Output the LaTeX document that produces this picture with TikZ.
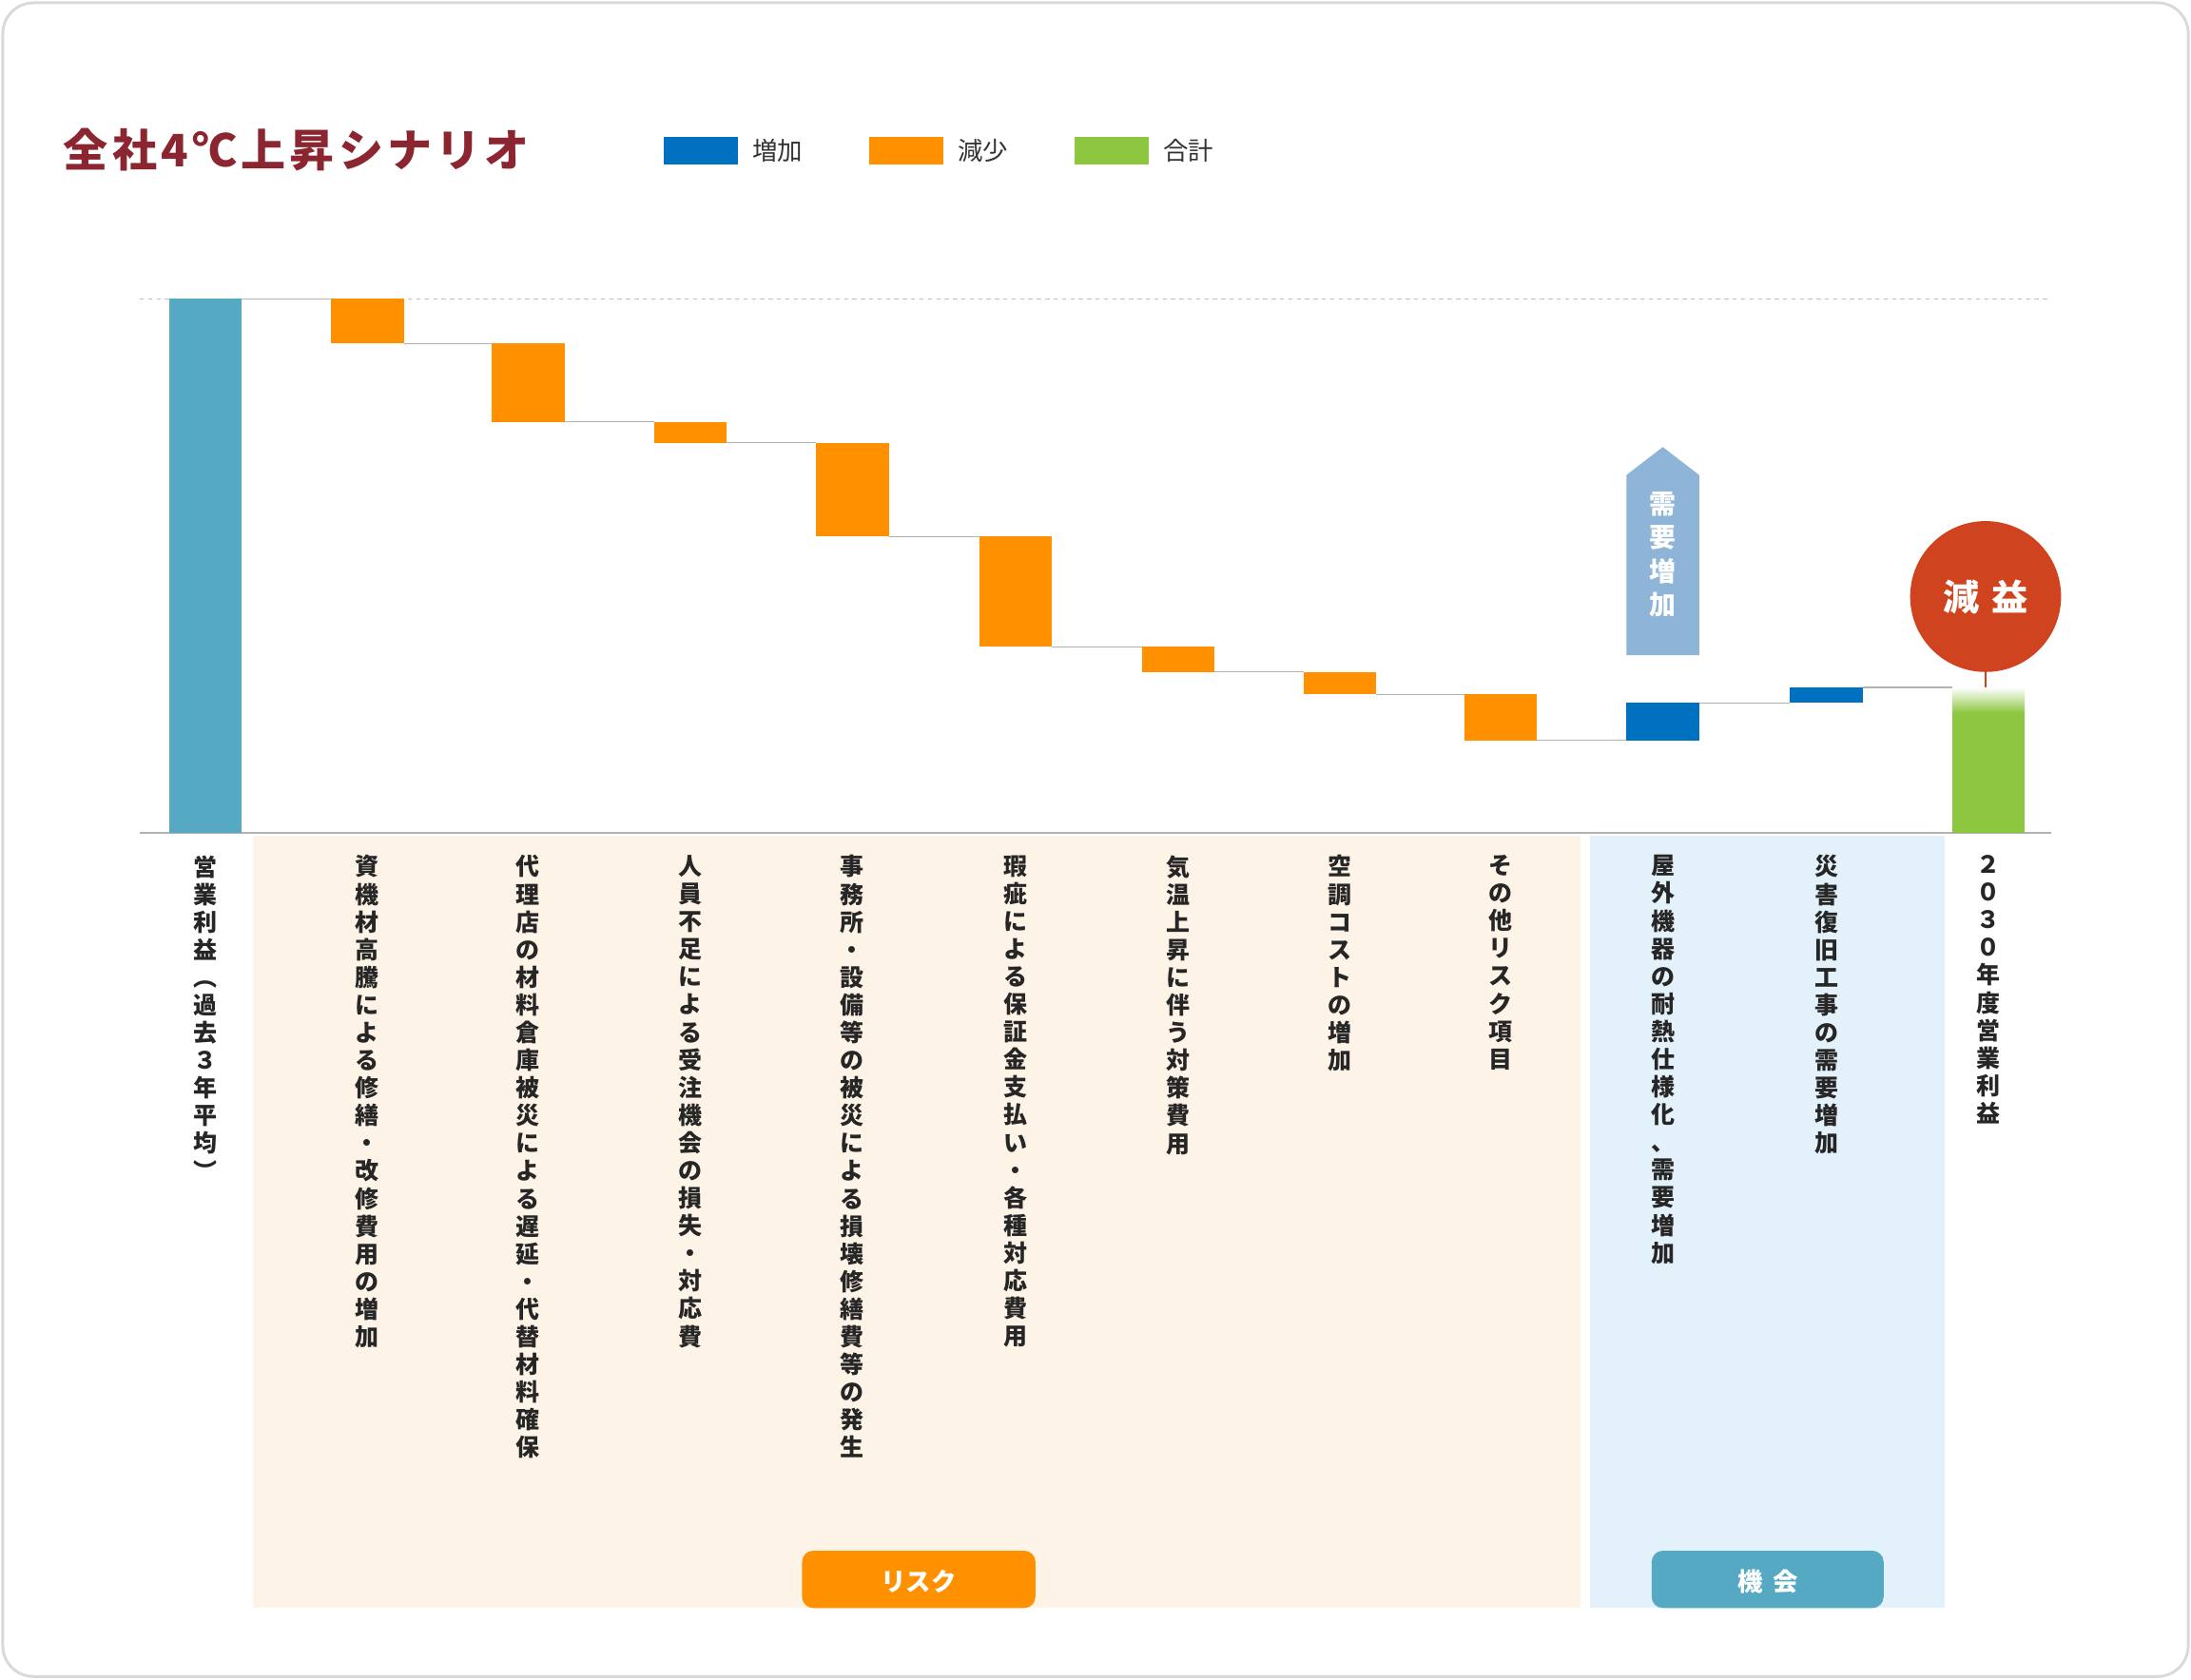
\documentclass[tikz,border=0pt]{standalone}
\usepackage{fontspec}
\usepackage{graphicx}
\setmainfont{Noto Sans CJK JP}
\def\vt#1{\vbox{\baselineskip=19.8pt\vtx#1\relax}}
\def\vtx#1{\ifx\relax#1\else\hbox to 20pt{\hss#1\hss}\expandafter\vtx\fi}
\definecolor{bblue}{HTML}{0070C0}
\definecolor{borange}{HTML}{FF9100}
\definecolor{bgreen}{HTML}{8DC63F}
\definecolor{bteal}{HTML}{55A9C2}
\definecolor{titlered}{HTML}{8B2530}
\definecolor{riskbg}{HTML}{FDF3E6}
\definecolor{oppbg}{HTML}{E3F2FA}
\definecolor{arrowblue}{HTML}{8EB4D8}
\definecolor{circred}{HTML}{D0431F}
\begin{document}
\begin{tikzpicture}[x=1pt,y=-1pt,
  conn/.style={draw=gray!60,line width=0.8pt},
  vlab/.style={anchor=north,inner sep=0pt,font=\fontsize{17}{20}\selectfont\bfseries,text=black!85},
  leg/.style={anchor=west,font=\fontsize{18}{20}\selectfont,text=black!80}]
\useasboundingbox (0,0) rectangle (1568,1202);
\draw[rounded corners=22pt,draw=black!15,line width=2pt,fill=white] (2,2) rectangle (1566,1200);
\node[anchor=west,font=\fontsize{32}{34}\selectfont\bfseries\addfontfeature{LetterSpace=9},text=titlered] (title) at (42,107) {全社4℃上昇シナリオ};
\fill[bblue] (475,98) rectangle (528,118); \node[leg] (l1) at (535,108) {増加};
\fill[borange] (622,98) rectangle (675,118); \node[leg] (l2) at (682,108) {減少};
\fill[bgreen] (769,98) rectangle (822,118); \node[leg] (l3) at (829,108) {合計};
% panels
\fill[riskbg] (181,598) rectangle (1131,1151);
\fill[oppbg] (1138,598) rectangle (1392,1151);
\fill[borange,rounded corners=8pt] (574,1151) -- (574,1110) -- (741,1110) -- (741,1151) -- cycle;
\node[text=white,font=\fontsize{18}{20}\selectfont\bfseries] (risk) at (657.5,1132) {リスク};
\fill[bteal,rounded corners=8pt] (1182,1151) -- (1182,1110) -- (1348,1110) -- (1348,1151) -- cycle;
\node[text=white,font=\fontsize{18}{20}\selectfont\bfseries] (opp) at (1265,1132) {機\hspace{0.4em}会};
% axes
\draw[gray!50,dashed,line width=0.8pt] (100,214) -- (1468,214);
\draw[gray!60,line width=1pt] (100,596) -- (1468,596);
% connectors
\draw[conn] (173,214) -- (237,214);
\draw[conn] (289,246) -- (352,246);
\draw[conn] (404,302) -- (468,302);
\draw[conn] (520,317) -- (584,317);
\draw[conn] (636,384) -- (701,384);
\draw[conn] (753,463) -- (817,463);
\draw[conn] (869,481) -- (933,481);
\draw[conn] (985,497) -- (1048,497);
\draw[conn] (1100,530) -- (1164,530);
\draw[conn] (1216,503) -- (1281,503);
\draw[conn] (1333,492) -- (1397,492);
% bars
\fill[bteal] (121,214) rectangle (173,596);
\fill[borange] (237,214) rectangle (289,246);
\fill[borange] (352,246) rectangle (404,302);
\fill[borange] (468,302) rectangle (520,317);
\fill[borange] (584,317) rectangle (636,384);
\fill[borange] (701,384) rectangle (753,463);
\fill[borange] (817,463) rectangle (869,481);
\fill[borange] (933,481) rectangle (985,497);
\fill[borange] (1048,497) rectangle (1100,530);
\fill[bblue] (1164,503) rectangle (1216,530);
\fill[bblue] (1281,492) rectangle (1333,503);
\fill[bgreen] (1397,510) rectangle (1449,596);
\shade[top color=white,bottom color=bgreen] (1397,492) rectangle (1449,510.5);
% arrow
\fill[arrowblue] (1164,469) -- (1164,340) -- (1190,320) -- (1216,340) -- (1216,469) -- cycle;
\node[vlab,text=white,font=\fontsize{19}{20}\selectfont\bfseries] (dem) at (1190,352) {\vbox{\baselineskip=24pt\vtx 需要増加\relax}};
% circle
\draw[circred,line width=1.5pt] (1421,478) -- (1421,492);
\node[circle,fill=circred,minimum size=108pt,inner sep=0pt,text=white,font=\fontsize{26}{28}\selectfont\bfseries] (gen) at (1421,427) {減\hspace{0.35em}益};
% labels
\node[vlab] (t1) at (147,612) {\vt{営業利益{\rotatebox[origin=c]{-90}{（}}過去３年平均{\rotatebox[origin=c]{-90}{）}}}};
\node[vlab] (t2) at (263,612) {\vt{資機材高騰による修繕・改修費用の増加}};
\node[vlab] (t3) at (378,612) {\vt{代理店の材料倉庫被災による遅延・代替材料確保}};
\node[vlab] (t4) at (494,612) {\vt{人員不足による受注機会の損失・対応費}};
\node[vlab] (t5) at (610,612) {\vt{事務所・設備等の被災による損壊修繕費等の発生}};
\node[vlab] (t6) at (727,612) {\vt{瑕疵による保証金支払い・各種対応費用}};
\node[vlab] (t7) at (843,612) {\vt{気温上昇に伴う対策費用}};
\node[vlab] (t8) at (959,612) {\vt{空調コストの増加}};
\node[vlab] (t9) at (1074,612) {\vt{その他リスク項目}};
\node[vlab] (t10) at (1190,612) {\vt{屋外機器の耐熱仕様化、需要増加}};
\node[vlab] (t11) at (1307,612) {\vt{災害復旧工事の需要増加}};
\node[vlab] (t12) at (1423,612) {\vt{２０３０年度営業利益}};
\end{tikzpicture}
\end{document}
